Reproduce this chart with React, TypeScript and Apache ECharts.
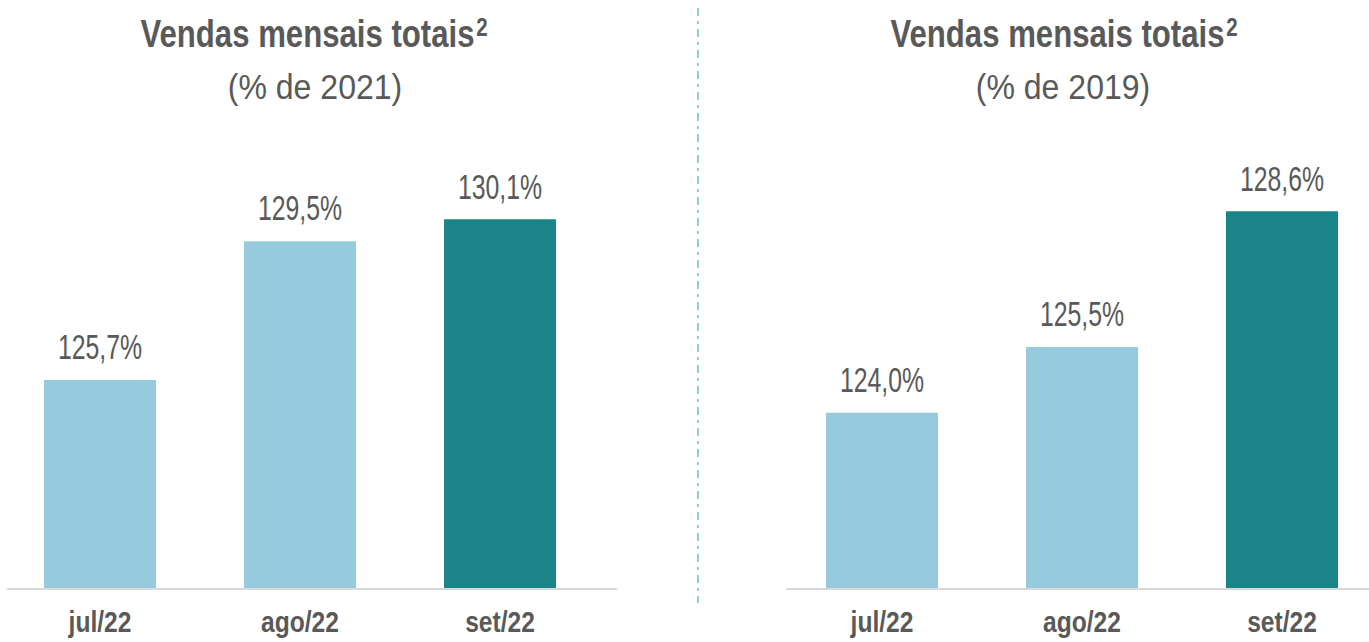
import React, { useEffect, useRef } from "react";
import * as echarts from "echarts";

const categories = ["jul/22", "ago/22", "set/22"];
const values2021 = [125.7, 129.5, 130.1];
const values2019 = [124.0, 125.5, 128.6];
const highlightIndex = 2;
const axisMin = 120;

const titleMain = "Vendas mensais totais";
const titleSup = "2";
const subtitle2021 = "(% de 2021)";
const subtitle2019 = "(% de 2019)";

const LIGHT = "#96cbdd";
const DARK = "#1b8489";
const TEXT = "#595959";
const FONT = "'Liberation Sans', Arial, sans-serif";

const fmt = (v: number) => v.toFixed(1).replace(".", ",") + "%";

export default function App() {
  const ref = useRef<HTMLDivElement>(null);
  useEffect(() => {
    if (!ref.current) return;
    const chart = echarts.init(ref.current, undefined, { renderer: "svg" });

    const barSeries = (values: number[], idx: number) => ({
      type: "bar",
      xAxisIndex: idx,
      yAxisIndex: idx,
      barWidth: 112,
      data: values.map((v, i) => ({
        value: v,
        itemStyle: { color: i === highlightIndex ? DARK : LIGHT },
      })),
    });

    const valueLabelSeries = (values: number[], idx: number) => ({
      type: "custom",
      xAxisIndex: idx,
      yAxisIndex: idx,
      silent: true,
      data: values.map((v, i) => [i, v]),
      renderItem: (params: any, api: any) => {
        const pt = api.coord([api.value(0), api.value(1)]);
        return {
          type: "text",
          x: pt[0],
          y: pt[1] - 33,
          scaleX: 0.69,
          style: {
            text: fmt(api.value(1)),
            font: `36px ${FONT}`,
            fill: TEXT,
            align: "center",
            verticalAlign: "middle",
          },
        };
      },
    });

    const categoryLabelSeries = (idx: number) => ({
      type: "custom",
      xAxisIndex: idx,
      yAxisIndex: idx,
      silent: true,
      data: categories.map((c, i) => [i, axisMin]),
      renderItem: (params: any, api: any) => {
        const pt = api.coord([api.value(0), api.value(1)]);
        return {
          type: "text",
          x: pt[0],
          y: pt[1] + 34,
          scaleX: 0.82,
          style: {
            text: categories[params.dataIndex],
            font: `bold 30px ${FONT}`,
            fill: TEXT,
            align: "center",
            verticalAlign: "middle",
          },
        };
      },
    });

    const xAxisBase = {
      type: "category",
      data: categories,
      axisLine: { show: false },
      axisTick: { show: false },
      axisLabel: { show: false },
    };
    const yAxisBase = {
      type: "value",
      min: axisMin,
      show: false,
      splitLine: { show: false },
    };

    const titleEl = (x: number) => ({
      type: "text",
      x,
      y: 34,
      scaleX: 0.82,
      style: {
        text: `{a|${titleMain}}{s|${titleSup}}`,
        fill: TEXT,
        align: "center",
        verticalAlign: "middle",
        rich: {
          a: { fontFamily: FONT, fontWeight: "bold", fontSize: 38, fill: TEXT, lineHeight: 38 },
          s: { fontFamily: FONT, fontWeight: "bold", fontSize: 25, fill: TEXT, verticalAlign: "top", lineHeight: 22, padding: [0, 0, 0, 2] },
        },
      },
    });
    const subEl = (x: number, text: string) => ({
      type: "text",
      x,
      y: 86,
      scaleX: 0.89,
      style: {
        text,
        font: `36px ${FONT}`,
        fill: TEXT,
        align: "center",
        verticalAlign: "middle",
      },
    });

    chart.setOption({
      animation: false,
      grid: [
        { left: 0, width: 600, top: 150, height: 438 },
        { left: 782, width: 600, top: 150, height: 438 },
      ],
      xAxis: [
        { ...xAxisBase, gridIndex: 0 },
        { ...xAxisBase, gridIndex: 1 },
      ],
      yAxis: [
        { ...yAxisBase, gridIndex: 0, max: 132 },
        { ...yAxisBase, gridIndex: 1, max: 130 },
      ],
      series: [
        barSeries(values2021, 0),
        barSeries(values2019, 1),
        valueLabelSeries(values2021, 0),
        valueLabelSeries(values2019, 1),
        categoryLabelSeries(0),
        categoryLabelSeries(1),
      ],
      graphic: [
        {
          type: "line",
          shape: { x1: 7, y1: 589, x2: 617, y2: 589 },
          style: { stroke: "#d9d9d9", lineWidth: 2 },
        },
        {
          type: "line",
          shape: { x1: 786, y1: 589, x2: 1369, y2: 589 },
          style: { stroke: "#d9d9d9", lineWidth: 2 },
        },
        {
          type: "line",
          shape: { x1: 698, y1: 8, x2: 698, y2: 603 },
          style: { stroke: "#8fd0d8", lineWidth: 2, lineDash: [8, 5, 3, 5] },
        },
        titleEl(314),
        subEl(315, subtitle2021),
        titleEl(1064),
        subEl(1063, subtitle2019),
      ],
    });
    return () => chart.dispose();
  }, []);
  return (
    <div
      style={{ position: "fixed", left: 0, top: 0, width: 1369, height: 642, overflow: "hidden", background: "#ffffff" }}
    >
      <div ref={ref} style={{ width: 1400, height: 642 }} />
    </div>
  );
}
